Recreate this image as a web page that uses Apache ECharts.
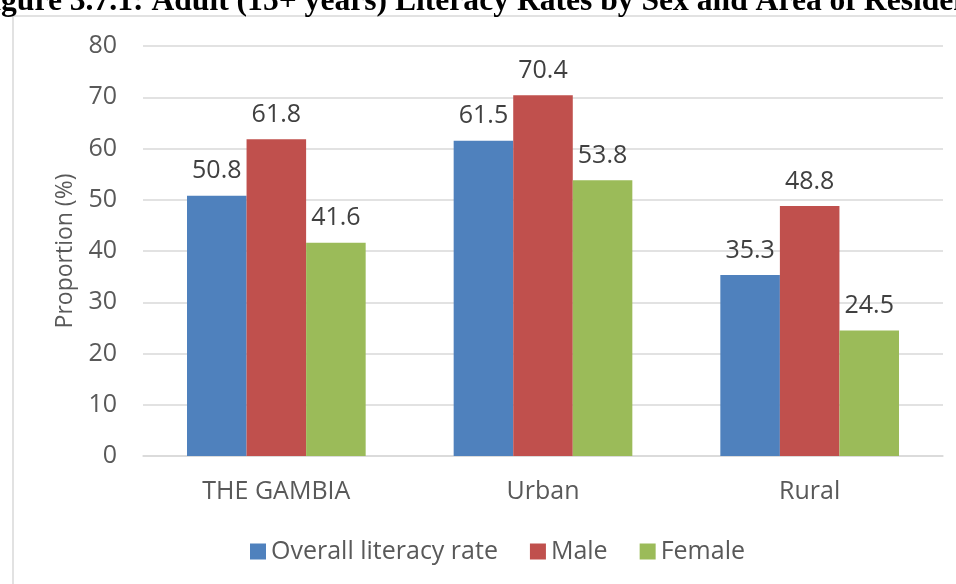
<!DOCTYPE html>
<html>
<head>
<meta charset="utf-8">
<script src="https://cdn.jsdelivr.net/npm/echarts@6/dist/echarts.min.js"></script>
<style>
  html, body { margin: 0; padding: 0; background: #fff; }
  #chart { width: 956px; height: 584px; }
</style>
</head>
<body>
<div id="chart"></div>
<script>
const categories = ['THE GAMBIA', 'Urban', 'Rural']
const overall = [50.8, 61.5, 35.3]
const male = [61.8, 70.4, 48.8]
const female = [41.6, 53.8, 24.5]
const titleText = 'Figure 3.7.1: Adult (15+ years) Literacy Rates by Sex and Area of Residence'

const chart = echarts.init(document.getElementById('chart'), null, { renderer: 'canvas' })

const font = '"Open Sans", "Noto Sans", sans-serif'
const textSize = 25
const labelStyle = {
  show: true,
  position: 'top',
  distance: 12,
  color: '#404040',
  fontSize: textSize,
  fontFamily: font
}

function barSeries(name, data, color) {
  return {
    name: name,
    type: 'bar',
    data: data,
    barGap: '0%',
    barCategoryGap: '33%',
    itemStyle: { color: color },
    label: labelStyle
  }
}

chart.setOption({
  animation: false,
  backgroundColor: '#fff',
  graphic: [
    {
      type: 'rect',
      shape: { x: 13, y: 16, width: 1000, height: 700 },
      style: { fill: 'none', stroke: '#d9d9d9', lineWidth: 1.5 },
      silent: true
    },
    {
      type: 'text',
      left: -27,
      top: -14,
      style: {
        text: titleText,
        fill: '#000',
        font: 'bold 31.6px "Liberation Serif", "Times New Roman", serif'
      },
      silent: true
    }
  ],
  grid: { left: 143, right: 13, top: 46, bottom: 128 },
  legend: {
    bottom: 15,
    left: 245,
    itemWidth: 16,
    itemHeight: 16,
    itemGap: 32,
    icon: 'rect',
    textStyle: { color: '#595959', fontSize: textSize, fontFamily: font }
  },
  xAxis: {
    type: 'category',
    data: categories,
    axisLine: { show: true, lineStyle: { color: '#d9d9d9', width: 1.5 } },
    axisTick: { show: false },
    axisLabel: { color: '#595959', fontSize: textSize, fontFamily: font, margin: 23 }
  },
  yAxis: {
    type: 'value',
    min: 0,
    max: 80,
    interval: 10,
    name: 'Proportion (%)',
    nameLocation: 'middle',
    nameGap: 66,
    nameTextStyle: { color: '#595959', fontSize: 23, fontFamily: font },
    axisLine: { show: false },
    axisTick: { show: false },
    axisLabel: { color: '#595959', fontSize: textSize, fontFamily: font, margin: 26 },
    splitLine: { lineStyle: { color: '#d9d9d9', width: 1.5 } }
  },
  series: [
    barSeries('Overall literacy rate', overall, '#4F81BD'),
    barSeries('Male', male, '#C0504D'),
    barSeries('Female', female, '#9BBB59')
  ]
})
</script>
</body>
</html>
